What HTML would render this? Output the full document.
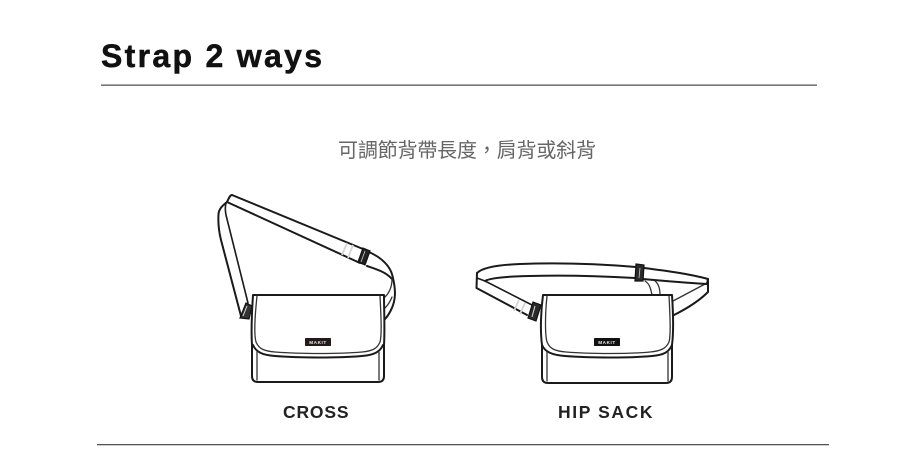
<!DOCTYPE html>
<html><head><meta charset="utf-8"><style>
html,body{margin:0;padding:0;background:#fff;width:918px;height:454px;overflow:hidden}
svg{display:block}
text{font-family:"Liberation Sans","Noto Sans CJK TC",sans-serif}
.l{fill:none;stroke:#1a1a1a;stroke-width:2;stroke-linecap:round;stroke-linejoin:round}
.t{fill:none;stroke:#333;stroke-width:1.3;stroke-linecap:round;stroke-linejoin:round}
.g{stroke:#d5d5d5;stroke-width:1.8;fill:none}
.soft{filter:blur(.35px)}
</style></head><body>
<svg width="918" height="454" viewBox="0 0 918 454" xmlns="http://www.w3.org/2000/svg">
<g class="soft">
<text x="101" y="67" font-size="32" font-weight="700" fill="#111" stroke="#111" stroke-width=".5" textLength="221" lengthAdjust="spacing">Strap 2 ways</text>
<rect x="101" y="84.5" width="716" height="1.3" fill="#555"/>
<text x="338" y="157" font-size="20" fill="#666" textLength="258">可調節背帶長度，肩背或斜背</text>
<text x="283" y="418" font-size="17.500" font-weight="700" fill="#222" textLength="65.500" lengthAdjust="spacing">CROSS</text>
<text x="558" y="418" font-size="17.500" font-weight="700" fill="#222" textLength="94.500" lengthAdjust="spacing">HIP SACK</text>
<rect x="97" y="444" width="732" height="1.3" fill="#555"/>

<!-- CROSS bag -->
<path class="l" d="M232 195 L363 249 M369 252 C380 257 390 265 392.5 276 C396 290 396 300 391 310 C389 314 387 317 385 319"/>
<path class="l" d="M232 195 C230 195 229 198 227 202 L360 263 M367 266 C376 269 386 272 392 279"/>
<path class="t" d="M392 279 C392 286 390 292 385 297 M392 297 C390 302 387 306 385 308"/>
<path class="l" d="M227 202 C222 206 219 209 218.5 214 C218 222 219 232 221 240 L241 316"/>
<path class="l" style="stroke-width:1.6" d="M226 203 C225 207 225 210 226 215 L248 303"/>
<path class="g" d="M347 243 L342 255 M353 245 L348 258"/>
<path d="M363 248 L370 251 L365 265 L358 262 Z" fill="#222" stroke="#111" stroke-width="1.2"/>
<path d="M365 251 L361 262" stroke="#ccc" stroke-width=".8"/>
<path d="M246 303 L252 306 L249 319 L240 318 Z" fill="#333" stroke="#111" stroke-width="1.2"/>
<path d="M247 306 L243 316" stroke="#ddd" stroke-width="1"/>
<path class="l" d="M253 295 L384 295 M253 295 C252 310 251 330 252 345 L252 376 Q252 382 258 382 L378 382 Q384 382 384 376 L384 345 C385 330 384 310 384 295"/>
<path class="t" d="M257 296 C255 315 254 335 256 342 C259 349 264 351 275 352 C300 354 340 354 362 352 C372 351 377 349 380 342 C382 335 381 315 380 296"/>
<path class="l" d="M253 345 C256 352 262 355 275 356 C300 358 340 358 362 356 C374 355 380 352 383 345"/>
<path class="t" d="M257 352 L257 380 M379 352 L379 380"/>
<rect x="305" y="338" width="26" height="8" rx=".8" fill="#241a1a"/>
<text x="318" y="344" font-size="4.6" font-weight="700" fill="#eee" text-anchor="middle" letter-spacing=".6">MAKIT</text>

<!-- HIP SACK bag -->
<path class="l" d="M477 273 C482 268 495 265 520 264 C560 262.500 600 264 636 267 M644 268 C668 271 690 274 708 279 L708 292 C698 302 686 309 674 315"/>
<path class="t" d="M673 301 L707 283"/>
<path class="l" d="M477 273 L476.500 288 L527 315"/>
<path class="l" d="M485 281 C490 278 505 276.500 530 276 C565 275 600 276 635 278 M643 279 C665 281 690 283 707 284 L708 279"/>
<path class="l" style="stroke-width:1.6" d="M477 278 L485 281 L532 305"/>
<path class="g" d="M519 300 L514 311 M525 303 L520 314"/>
<path d="M636 264 L644 265 L643 281 L635 281 Z" fill="#2a2a2a" stroke="#111" stroke-width="1.2"/>
<path d="M640 268 L639 278" stroke="#ccc" stroke-width=".8"/>
<path d="M533 302 L541 305 L536 321 L528 318 Z" fill="#2a2a2a" stroke="#111" stroke-width="1.2"/>
<path d="M535 306 L532 317" stroke="#ddd" stroke-width="1"/>
<path class="t" d="M645 281 C650 284 651 290 652 295 M655 281 C659 284 660 290 660 295"/>
<path class="l" d="M543 295 L672 295 M543 295 C541 310 540 330 542 345 L542 377 Q542 383 548 383 L666 383 Q672 383 672 377 L672 345 C674 330 673 310 672 295"/>
<path class="t" d="M547 296 C545 315 545 335 547 342 C550 349 555 351 566 352 C590 354 630 354 650 352 C660 351 666 349 669 342 C671 335 670 315 669 296"/>
<path class="l" d="M542 345 C545 352 552 355 565 356 C590 358 630 358 652 356 C664 355 669 352 672 345"/>
<path class="t" d="M547 352 L547 381 M668 352 L668 381"/>
<rect x="594" y="338" width="26" height="8" rx=".8" fill="#111"/>
<text x="607" y="344" font-size="4.6" font-weight="700" fill="#eee" text-anchor="middle" letter-spacing=".6">MAKIT</text>
</g>
</svg>
</body></html>
